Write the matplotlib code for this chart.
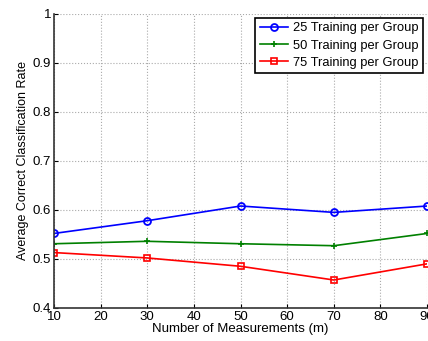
import numpy as np
import matplotlib.pyplot as plt

measurements = [10, 30, 50, 70, 90]
rate_25 = [0.552, 0.578, 0.608, 0.595, 0.608]
rate_50 = [0.531, 0.536, 0.531, 0.527, 0.552]
rate_75 = [0.513, 0.502, 0.485, 0.457, 0.490]

y_ticks = [0.4, 0.5, 0.6, 0.7, 0.8, 0.9, 1.0]
y_labels = ['0.4', '0.5', '0.6', '0.7', '0.8', '0.9', '1']
x_ticks = [10, 20, 30, 40, 50, 60, 70, 80, 90]

plt.rcParams['font.family'] = ['Liberation Sans', 'DejaVu Sans']

fig = plt.figure(figsize=(4.28, 3.41), dpi=100)
ax = fig.add_axes([0.126, 0.097, 0.872, 0.862])

ax.plot(measurements, rate_25, color='#0000ff', marker='o', markersize=5,
        markerfacecolor='none', markeredgewidth=1.3, linewidth=1.2,
        label='25 Training per Group')
ax.plot(measurements, rate_50, color='#008000', marker='+', markersize=4,
        markeredgewidth=1.2, linewidth=1.2, label='50 Training per Group')
ax.plot(measurements, rate_75, color='#ff0000', marker='s', markersize=5,
        markerfacecolor='none', markeredgewidth=1.2, linewidth=1.2,
        label='75 Training per Group')

ax.set_xlim(10, 90)
ax.set_ylim(0.4, 1.0)
ax.set_xticks(x_ticks)
ax.set_yticks(y_ticks)
ax.set_yticklabels(y_labels)
ax.tick_params(direction='in', labelsize=9.5, length=3, pad=2)
ax.grid(True, linestyle=':', color='#aaaaaa', linewidth=0.8)

for side in ['top', 'right']:
    ax.spines[side].set_visible(False)
for side in ['left', 'bottom']:
    ax.spines[side].set_linewidth(1.2)
    ax.spines[side].set_color('#333333')

ax.set_xlabel('Number of Measurements (m)', fontsize=9.5, labelpad=0)
ax.set_ylabel('Average Correct Classification Rate', fontsize=9, labelpad=3)

leg = ax.legend(loc='upper right', fontsize=9.3, fancybox=False, framealpha=1,
                edgecolor='black', borderaxespad=0.3, handlelength=2.2,
                borderpad=0.35, labelspacing=0.4, handletextpad=0.4)
leg.get_frame().set_linewidth(1.2)

fig.savefig('out.png', dpi=100)
